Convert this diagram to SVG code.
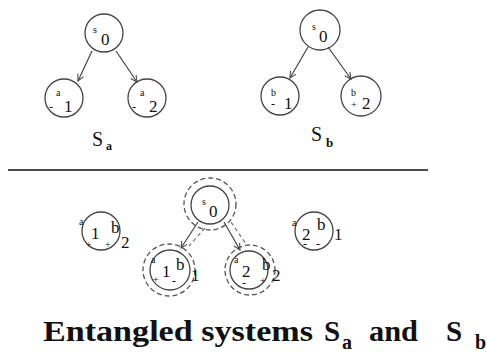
<svg xmlns="http://www.w3.org/2000/svg" width="487" height="352" viewBox="0 0 487 352">
<style>
.st{fill:none;stroke:#444;stroke-width:1.3}
.ds{fill:none;stroke:#555;stroke-width:1.3;stroke-dasharray:5 3}
.ln{stroke:#444;stroke-width:1.2;fill:none}
.dl{stroke:#777;stroke-width:1.2;fill:none;stroke-dasharray:4 3}
text{font-family:"Liberation Serif","Times New Roman",serif;fill:#111}
.sm{font-size:10px}
.lg{font-size:17px}
.sg{font-size:12px}
.cap{font-family:"Liberation Serif","Times New Roman",serif;font-weight:bold;font-size:29px}
</style>
<defs>
<marker id="arr" viewBox="0 0 10 10" refX="9" refY="5" markerWidth="8" markerHeight="8" orient="auto" markerUnits="userSpaceOnUse">
<path d="M1,1 L9,5 L1,9" fill="none" stroke="#444" stroke-width="1.3"/>
</marker>
</defs>

<g id="top-a-s0"><circle class="st" cx="104" cy="33" r="19"/><text class="sm" x="93" y="33">s</text><text class="lg" x="101" y="45">0</text></g>
<g id="top-a-a1"><circle class="st" cx="64" cy="98" r="19"/><text class="sg" x="49" y="111">-</text><text class="sm" x="56" y="96">a</text><text class="lg" x="64" y="112">1</text></g>
<g id="top-a-a2"><circle class="st" cx="147" cy="98" r="19"/><text class="sg" x="132" y="111">-</text><text class="sm" x="140" y="96">a</text><text class="lg" x="149" y="112">2</text></g>
<g id="label-sa"><text style="font-size:20px" x="92" y="146">S</text><text class="sm" style="font-weight:bold;font-size:12px" x="106" y="150">a</text></g>

<g id="top-b-s0"><circle class="st" cx="320" cy="30" r="20"/><text class="sm" x="312" y="30">s</text><text class="lg" x="319" y="42">0</text></g>
<g id="top-b-b1"><circle class="st" cx="280" cy="96" r="19"/><text class="sm" x="271" y="96">b</text><text class="sg" x="271" y="108">-</text><text class="lg" x="284" y="109">1</text></g>
<g id="top-b-b2"><circle class="st" cx="361" cy="96" r="20"/><text class="sm" x="351" y="96">b</text><text class="sm" x="351" y="108">+</text><text class="lg" x="362" y="109">2</text></g>
<g id="label-sb"><text style="font-size:20px" x="311" y="141">S</text><text class="sm" style="font-weight:bold;font-size:13px" x="326" y="147">b</text></g>

<line x1="8" y1="170" x2="428" y2="170" stroke="#111" stroke-width="1.5"/>

<g id="ent-a1b2"><circle class="st" cx="101" cy="231" r="19"/><text class="sm" x="79" y="225">a</text><text class="lg" x="91" y="239">1</text><text class="lg" x="111" y="233">b</text><text class="lg" x="121" y="248">2</text><text class="sm" x="86" y="248">+</text><text class="sm" x="105" y="248">+</text></g>
<g id="ent-a2b1"><circle class="st" cx="314" cy="231" r="19"/><text class="sm" x="292" y="226">a</text><text class="lg" x="302" y="240">2</text><text class="lg" x="317" y="230">b</text><text class="lg" x="334" y="240">1</text><text class="sg" x="303" y="248">-</text><text class="sg" x="316" y="248">-</text></g>

<g id="ent-s0"><circle class="st" cx="210" cy="205" r="19"/><circle class="ds" cx="210" cy="204" r="26"/><text class="sm" x="202" y="205">s</text><text class="lg" x="209" y="217">0</text></g>
<g id="ent-a1b1"><circle class="st" cx="170" cy="270" r="20"/><circle class="ds" cx="169" cy="270" r="26"/><text class="sm" x="151" y="263">a</text><text class="lg" x="162" y="277">1</text><text class="lg" x="176" y="270">b</text><text class="lg" x="191" y="281">1</text><text class="sm" x="153" y="283">+</text><text class="sg" x="172" y="285">-</text></g>
<g id="ent-a2b2"><circle class="st" cx="249" cy="270" r="19"/><circle class="ds" cx="250" cy="270" r="25"/><text class="sm" x="234" y="263">a</text><text class="lg" x="242" y="277">2</text><text class="lg" x="262" y="270">b</text><text class="lg" x="272" y="281">2</text><text class="sg" x="242" y="287">-</text><text class="sm" x="260" y="284">+</text></g>

<g id="connectors">
<line class="ln" x1="92" y1="51" x2="78" y2="81" marker-end="url(#arr)"/>
<line class="ln" x1="116" y1="51" x2="137" y2="82" marker-end="url(#arr)"/>
<line class="ln" x1="308" y1="47" x2="290" y2="78" marker-end="url(#arr)"/>
<line class="ln" x1="328" y1="47" x2="351" y2="79" marker-end="url(#arr)"/>
<line class="ln" x1="198" y1="222" x2="181" y2="248" marker-end="url(#arr)"/>
<line class="dl" x1="205" y1="228" x2="189" y2="246"/>
<line class="ln" x1="224" y1="222" x2="240" y2="250" marker-end="url(#arr)"/>
<line class="dl" x1="231" y1="222" x2="246" y2="244"/>
</g>

<g id="caption">
<text class="cap" x="43" y="341" textLength="270" lengthAdjust="spacingAndGlyphs">Entangled systems</text>
<text class="cap" x="324" y="341">S</text>
<text class="cap" style="font-size:20px" x="342" y="349">a</text>
<text class="cap" x="369" y="341" textLength="49" lengthAdjust="spacingAndGlyphs">and</text>
<text class="cap" x="446" y="341">S</text>
<text class="cap" style="font-size:20px" x="475" y="349">b</text>
</g>
</svg>
